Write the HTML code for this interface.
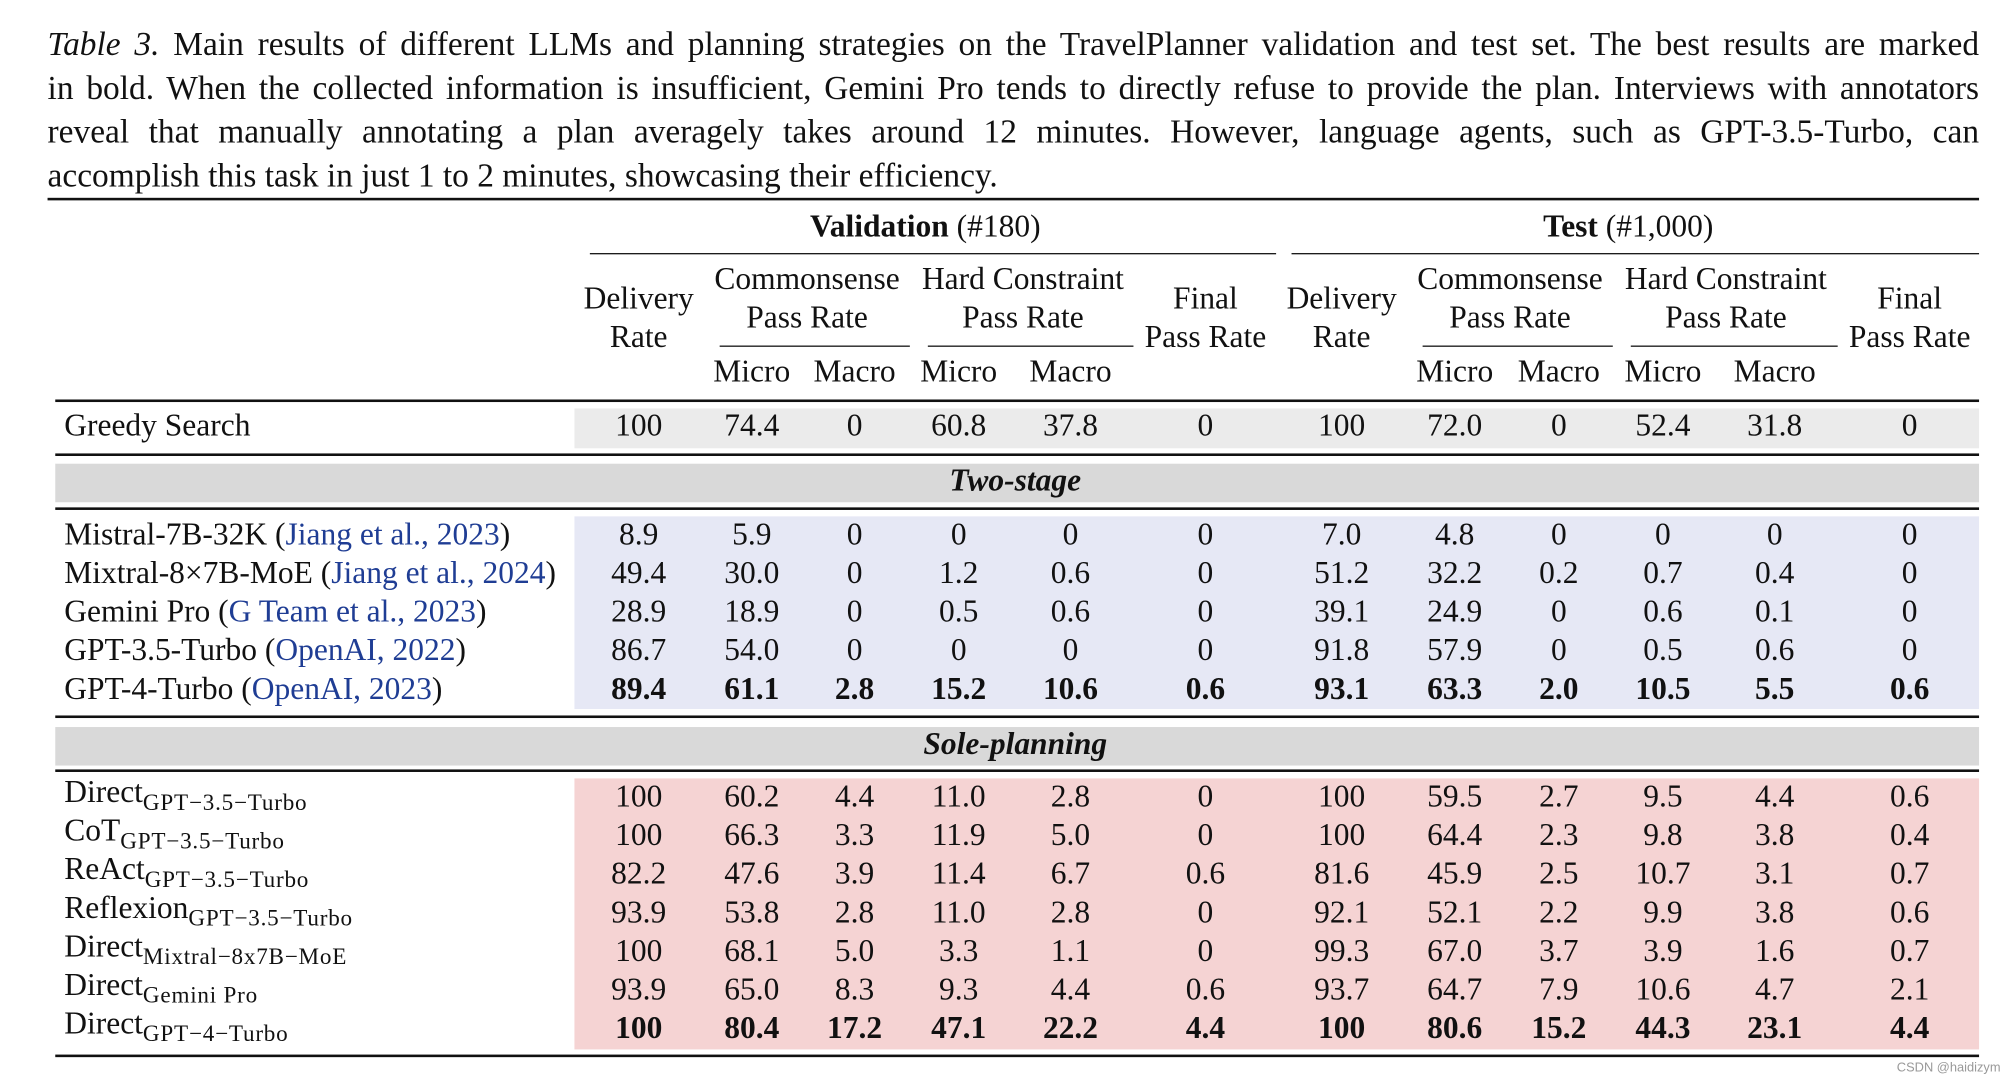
<!DOCTYPE html>
<html><head><meta charset="utf-8">
<style>
html,body{margin:0;padding:0;background:#fff;}
body{width:2015px;height:1088px;overflow:hidden;position:relative;}
#s{position:absolute;left:0;top:0;width:1568px;height:847px;transform:scale(1.2851,1.2845);transform-origin:0 0;font-family:"Liberation Serif",serif;color:#111;}
.cap{position:absolute;left:37px;width:1503px;font-size:26px;line-height:34px;text-align:justify;text-align-last:justify;white-space:nowrap;}
.r{position:absolute;background:#111;}
.bg{position:absolute;}
.t{position:absolute;font-size:24.5px;line-height:30px;white-space:nowrap;transform:translate(-50%,-50%);}
.l{position:absolute;font-size:24.5px;line-height:30px;white-space:nowrap;transform:translateY(-50%);left:50px;}
.l a{color:#1f3d94;text-decoration:none;}
sub{font-size:18px;vertical-align:-6px;letter-spacing:0.6px;}
b{font-weight:bold;}
</style></head><body>
<div id="s">
<div class="cap" style="top:18px"><i>Table 3.</i> Main results of different LLMs and planning strategies on the TravelPlanner validation and test set. The best results are marked</div>
<div class="cap" style="top:52px">in bold. When the collected information is insufficient, Gemini Pro tends to directly refuse to provide the plan. Interviews with annotators</div>
<div class="cap" style="top:86px">reveal that manually annotating a plan averagely takes around 12 minutes. However, language agents, such as GPT-3.5-Turbo, can</div>
<div class="cap" style="top:120px;text-align-last:left">accomplish this task in just 1 to 2 minutes, showcasing their efficiency.</div>

<div class="bg" style="left:447px;top:318px;width:1093px;height:31px;background:#ebebeb"></div>
<div class="bg" style="left:43px;top:361px;width:1497px;height:30px;background:#d9d9d9"></div>
<div class="bg" style="left:447px;top:402px;width:1093px;height:150px;background:#e6e8f5"></div>
<div class="bg" style="left:43px;top:566px;width:1497px;height:30px;background:#d9d9d9"></div>
<div class="bg" style="left:447px;top:606px;width:1093px;height:211px;background:#f5d3d3"></div>

<div class="r" style="left:37px;top:154px;width:1503px;height:2px"></div>
<div class="r" style="left:459px;top:197px;width:534px;height:1px"></div>
<div class="r" style="left:1005px;top:197px;width:535px;height:1px"></div>
<div class="r" style="left:560px;top:269px;width:148px;height:1px"></div>
<div class="r" style="left:722px;top:269px;width:160px;height:1px"></div>
<div class="r" style="left:1107px;top:269px;width:148px;height:1px"></div>
<div class="r" style="left:1269px;top:269px;width:161px;height:1px"></div>
<div class="r" style="left:43px;top:311px;width:1497px;height:1.5px"></div>
<div class="r" style="left:43px;top:353px;width:1497px;height:1.5px"></div>
<div class="r" style="left:43px;top:395px;width:1497px;height:1.5px"></div>
<div class="r" style="left:43px;top:557px;width:1497px;height:1.5px"></div>
<div class="r" style="left:43px;top:599px;width:1497px;height:1.5px"></div>
<div class="r" style="left:43px;top:821px;width:1497px;height:2px"></div>

<div class="t" style="left:720px;top:177px"><b>Validation</b> (#180)</div>
<div class="t" style="left:1267px;top:177px"><b>Test</b> (#1,000)</div>
<div class="t" style="left:790px;top:375px"><b><i>Two-stage</i></b></div>
<div class="t" style="left:790px;top:580px"><b><i>Sole-planning</i></b></div>
<div style="position:absolute;left:1476px;top:826px;font-family:'Liberation Sans',sans-serif;font-size:10px;color:#999">CSDN @haidizym</div>
<div id="cells"></div>
</div>
<script>
const colX=[497,585,665,746,833,938,1044,1132,1213,1294,1381,1486];
const groupHeads=[["Delivery","Rate",497],["Commonsense","Pass Rate",628],["Hard Constraint","Pass Rate",796],["Final","Pass Rate",938],["Delivery","Rate",1044],["Commonsense","Pass Rate",1175],["Hard Constraint","Pass Rate",1343],["Final","Pass Rate",1486]];
const subHeads=["Micro","Macro","Micro","Macro","Micro","Macro","Micro","Macro"];
const subCols=[1,2,3,4,7,8,9,10];
const rowLabels=[
 'Greedy Search',
 'Mistral-7B-32K (<a>Jiang et al., 2023</a>)',
 'Mixtral-8×7B-MoE (<a>Jiang et al., 2024</a>)',
 'Gemini Pro (<a>G Team et al., 2023</a>)',
 'GPT-3.5-Turbo (<a>OpenAI, 2022</a>)',
 'GPT-4-Turbo (<a>OpenAI, 2023</a>)',
 'Direct<sub>GPT−3.5−Turbo</sub>','CoT<sub>GPT−3.5−Turbo</sub>','ReAct<sub>GPT−3.5−Turbo</sub>','Reflexion<sub>GPT−3.5−Turbo</sub>',
 'Direct<sub>Mixtral−8x7B−MoE</sub>','Direct<sub>Gemini Pro</sub>','Direct<sub>GPT−4−Turbo</sub>'];
const rowY=[332,417,447,477,507,537,621,651,681,711,741,771,801];
const rowBold=[false,false,false,false,false,true,false,false,false,false,false,false,true];
const values=[
 ["100","74.4","0","60.8","37.8","0","100","72.0","0","52.4","31.8","0"],
 ["8.9","5.9","0","0","0","0","7.0","4.8","0","0","0","0"],
 ["49.4","30.0","0","1.2","0.6","0","51.2","32.2","0.2","0.7","0.4","0"],
 ["28.9","18.9","0","0.5","0.6","0","39.1","24.9","0","0.6","0.1","0"],
 ["86.7","54.0","0","0","0","0","91.8","57.9","0","0.5","0.6","0"],
 ["89.4","61.1","2.8","15.2","10.6","0.6","93.1","63.3","2.0","10.5","5.5","0.6"],
 ["100","60.2","4.4","11.0","2.8","0","100","59.5","2.7","9.5","4.4","0.6"],
 ["100","66.3","3.3","11.9","5.0","0","100","64.4","2.3","9.8","3.8","0.4"],
 ["82.2","47.6","3.9","11.4","6.7","0.6","81.6","45.9","2.5","10.7","3.1","0.7"],
 ["93.9","53.8","2.8","11.0","2.8","0","92.1","52.1","2.2","9.9","3.8","0.6"],
 ["100","68.1","5.0","3.3","1.1","0","99.3","67.0","3.7","3.9","1.6","0.7"],
 ["93.9","65.0","8.3","9.3","4.4","0.6","93.7","64.7","7.9","10.6","4.7","2.1"],
 ["100","80.4","17.2","47.1","22.2","4.4","100","80.6","15.2","44.3","23.1","4.4"]];
const host=document.getElementById('cells');
function add(cls,x,y,html,name){
 const d=document.createElement('div');
 d.className=cls;
 if(x!==null)d.style.left=x+'px';
 d.style.top=y+'px';
 d.innerHTML=html;
 
 
 host.appendChild(d);
}
groupHeads.forEach((g,i)=>{
 const two=(g[0]!=="Delivery"&&g[0]!=="Final");
 const y1=two?218:233,y2=two?248:263;
 add('t',g[2],y1,g[0],'column-header-line1');
 add('t',g[2],y2,g[1],'column-header-line2');
});
subHeads.forEach((s,i)=>add('t',colX[subCols[i]],290,s,'sub-header'));
rowLabels.forEach((lab,r)=>{
 add('l',null,rowY[r],lab,'row-label');
 values[r].forEach((v,c)=>add('t',colX[c],rowY[r],rowBold[r]?'<b>'+v+'</b>':v,'value-cell'));
});
</script>
</body></html>
